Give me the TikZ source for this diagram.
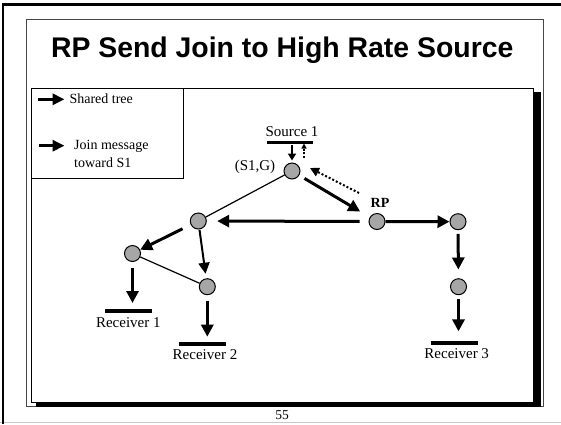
\documentclass[tikz,border=0pt]{standalone}
\usepackage{fontspec}
\setmainfont{Liberation Serif}
\newfontfamily\headfont{Liberation Sans}
\usetikzlibrary{arrows.meta}
\definecolor{nodegray}{RGB}{166,166,166}
\definecolor{rimgray}{RGB}{200,200,200}
\definecolor{framegray}{RGB}{70,70,70}

\begin{document}
\begin{tikzpicture}[x=1pt,y=-1pt,
  router/.style={circle,draw=black,line width=1pt,fill=nodegray,minimum size=16pt,inner sep=0pt},
  bar/.style={rectangle,fill=black,minimum height=3.6pt,inner sep=0pt},
  lbl/.style={font=\fontsize{15}{17}\selectfont,inner sep=0pt},
  leg/.style={font=\fontsize{14}{17}\selectfont,inner sep=0pt},
  flow/.style={line width=3pt,-{Triangle[length=12pt,width=12pt]}},
  flowthin/.style={line width=2pt,-{Triangle[length=11pt,width=11pt]}},
  feed/.style={line width=2.2pt,-{Triangle[length=7pt,width=8pt]}},
  joinmsg/.style={line width=2pt,dash pattern=on 2pt off 2pt,-{Triangle[length=9pt,width=9pt]}},
  joinsmall/.style={line width=1.5pt,dash pattern=on 2pt off 1.5pt,-{Triangle[length=5pt,width=5pt]}},
  link/.style={line width=1.2pt},
  legarrow/.style={line width=3pt,-{Triangle[length=12pt,width=11pt]}}
]
\useasboundingbox (0,0) rectangle (561,424);

% page rim
\draw[rimgray,line width=1pt] (0,422.7) -- (561,422.7);
\draw[black,line width=2.5pt] (3,424) -- (3,4.5) -- (561,4.5);

% slide frame
\draw[framegray,line width=0.8pt] (26.5,19.5) rectangle (543.5,406.5);

% title
\node[anchor=base,inner sep=0pt,font=\headfont\bfseries\fontsize{28.4}{31}\selectfont] (title) at (282.2,57.3) {RP Send Join to High Rate Source};

% diagram panel with drop shadow
\fill[black] (35.5,92) rectangle (540.5,406.5);
\draw[fill=white,line width=0.8pt] (31.5,88) rectangle (533.5,402.5);

% legend
\draw[line width=0.8pt] (31.5,88) rectangle (183,178);
\coordinate (l1a) at (38,99.3);
\coordinate (l1b) at (64.5,99.3);
\coordinate (l2a) at (39,145.7);
\coordinate (l2b) at (64.5,145.7);
\draw[legarrow] (l1a) -- (l1b);
\draw[legarrow] (l2a) -- (l2b);
\node[leg,anchor=base west] (legshared) at (69.3,103.8) {Shared tree};
\node[leg,anchor=base west] (legjoin1) at (74,149.8) {Join message};
\node[leg,anchor=base west] (legjoin2) at (74,167.5) {toward S1};

% routers
\node[router] (s1g) at (292,171) {};
\node[router] (rp)  at (377,221.5) {};
\node[router] (na)  at (198.3,221) {};
\node[router] (nb)  at (132.5,253.5) {};
\node[router] (nc)  at (207.3,286.7) {};
\node[router] (nd)  at (458,221.7) {};
\node[router] (ne)  at (458.5,286.7) {};

% hosts (source and receivers)
\node[bar,minimum width=46pt]   (srcbar) at (290,142.5) {};
\node[bar,minimum width=46.7pt] (rbar1)  at (128.3,310.7) {};
\node[bar,minimum width=46.4pt] (rbar2)  at (202.5,344) {};
\node[bar,minimum width=46.7pt] (rbar3)  at (454.3,342.7) {};

% labels
\node[lbl] (srclbl) at (292,132) {Source 1};
\node[lbl] (r1lbl) at (128.3,322.7) {Receiver 1};
\node[lbl] (r2lbl) at (205,354.3) {Receiver 2};
\node[lbl] (r3lbl) at (456.7,354) {Receiver 3};
\node[lbl] (sglbl) at (255,167) {(S1,G)};
\node[inner sep=0pt,font=\bfseries\fontsize{14}{16}\selectfont] (rplbl) at (380,203.3) {RP};
\node[inner sep=0pt,font=\fontsize{13.5}{16}\selectfont] (pagenum) at (282,415.6) {55};

% plain links
\draw[link] (na) -- (s1g);
\draw[link] (nb) -- (nc);

% traffic and join messages
\draw[feed,shorten >=2pt] (srcbar.south -| s1g) -- (s1g);
\draw[joinsmall] ([shift={(12pt,5pt)}]s1g.north) -- ([shift={(12pt,19pt)}]s1g.north);
\draw[flow,shorten <=6pt,shorten >=11pt] (s1g) -- (rp);
\draw[joinmsg] ([shift={(-18pt,28.5pt)}]rp.center) -- ([shift={(18pt,3pt)}]s1g.center);
\draw[flow,shorten <=9pt,shorten >=10.4pt] (rp) -- (na);
\draw[flow] (rp) -- (nd);
\draw[flow,shorten <=9pt] (na) -- (nb);
\draw[flowthin,shorten <=0.5pt,shorten >=4.6pt] (na) -- (nc);
\draw[flow,shorten <=5.5pt,shorten >=5.7pt] (nb) -- (nb |- rbar1.north);
\draw[flow,shorten <=5.3pt,shorten >=5.3pt] (nc) -- (nc |- rbar2.north);
\draw[flow,shorten <=3.6pt,shorten >=8.7pt] (nd) -- (ne);
\draw[flow,shorten <=3.6pt,shorten >=9.3pt] (ne) -- (ne |- rbar3.north);
\end{tikzpicture}
\end{document}
